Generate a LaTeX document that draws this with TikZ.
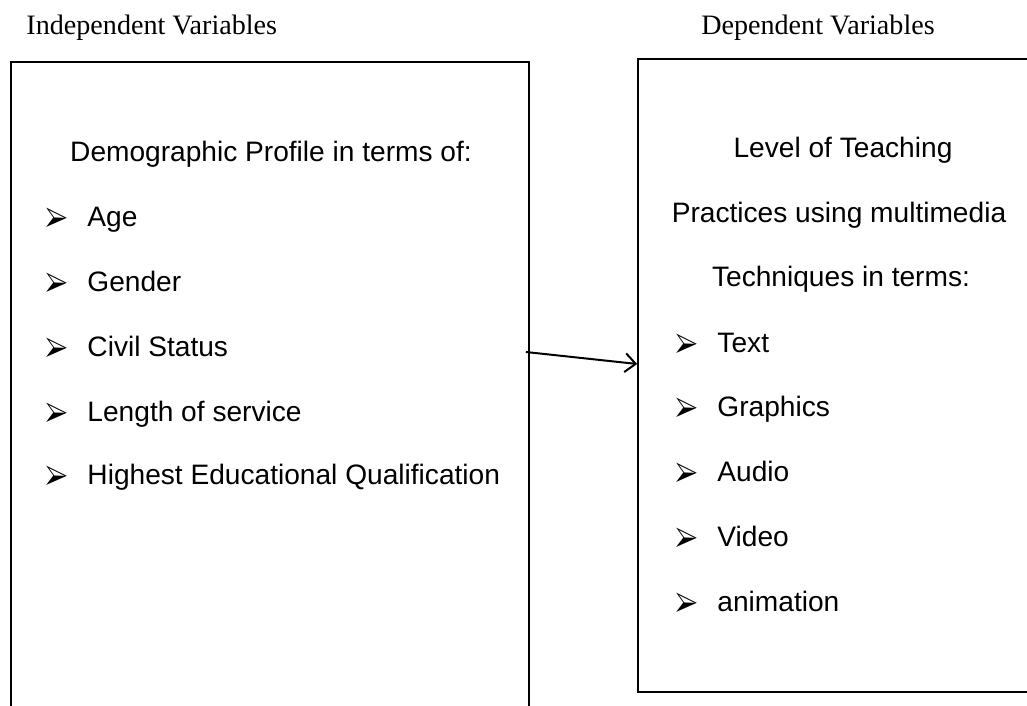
\documentclass[tikz,border=0pt]{standalone}
\usepackage{fontspec}
\setmainfont{Liberation Serif}
\newfontfamily\arialfont{Liberation Sans}
\usepackage{pifont}
\usepackage{graphicx}
\usepackage{tikz}
\usetikzlibrary{calc,arrows.meta}
\newcommand{\bul}{\raisebox{-1.6pt}{\scalebox{1.15}[1.75]{\fontsize{9}{11}\selectfont\ding{226}}}}

\begin{document}
\begin{tikzpicture}[
        box/.style={draw,line width=0.7pt,rectangle,inner sep=0pt},
        head/.style={inner sep=0pt,font=\fontsize{12}{14}\selectfont},
        txt/.style={inner sep=0pt,font=\arialfont\fontsize{12}{14}\selectfont},
        blt/.style={inner sep=0pt,anchor=base west},
        edge/.style={line width=0.85pt}
        ]
        \clip (0,0) rectangle (15.405,10.59);
        \useasboundingbox (0,0) rectangle (15.405,10.59);

        \node[head,anchor=base west] (indep) at (0.39,10.065) {Independent Variables};
        \node[head,anchor=base] (dep) at (12.27,10.065) {Dependent Variables};

        \node[box,minimum width=7.77cm,minimum height=10.77cm] (lbox) at (4.05,4.275) {};
        \node[box,minimum width=6.93cm,minimum height=9.495cm] (rbox) at (13.035,4.9575) {};

        \node[txt,anchor=base] (demo) at (4.065,8.16) {Demographic Profile in terms of:};
        \node[blt] (b1) at (0.675,7.185) {\bul};
        \node[blt] (b2) at (0.675,6.21) {\bul};
        \node[blt] (b3) at (0.675,5.235) {\bul};
        \node[blt] (b4) at (0.675,4.26) {\bul};
        \node[blt] (b5) at (0.675,3.315) {\bul};
        \node[txt,anchor=base west] (age) at (1.305,7.185) {Age};
        \node[txt,anchor=base west] (gender) at (1.305,6.21) {Gender};
        \node[txt,anchor=base west] (civil) at (1.305,5.235) {Civil Status};
        \node[txt,anchor=base west] (service) at (1.305,4.26) {Length of service};
        \node[txt,anchor=base west] (educ) at (1.305,3.315) {Highest Educational Qualification};

        \node[txt,anchor=base] (level) at (12.645,8.22) {Level of Teaching};
        \node[txt,anchor=base] (pract) at (12.585,7.245) {Practices using multimedia};
        \node[txt,anchor=base] (techn) at (12.615,6.285) {Techniques in terms:};
        \node[blt] (c1) at (10.125,5.295) {\bul};
        \node[blt] (c2) at (10.125,4.335) {\bul};
        \node[blt] (c3) at (10.125,3.36) {\bul};
        \node[blt] (c4) at (10.125,2.385) {\bul};
        \node[blt] (c5) at (10.125,1.41) {\bul};
        \node[txt,anchor=base west] (text) at (10.755,5.295) {Text};
        \node[txt,anchor=base west] (graph) at (10.755,4.335) {Graphics};
        \node[txt,anchor=base west] (audio) at (10.755,3.36) {Audio};
        \node[txt,anchor=base west] (video) at (10.755,2.385) {Video};
        \node[txt,anchor=base west] (anim) at (10.755,1.41) {animation};

        \draw[edge,-{Straight Barb[length=4.5pt,width=8pt]}] ($(lbox.east)+(-0.06,1.035)$) -- ($(rbox.west)+(0,0.1725)$);
    \end{tikzpicture}
\end{document}
